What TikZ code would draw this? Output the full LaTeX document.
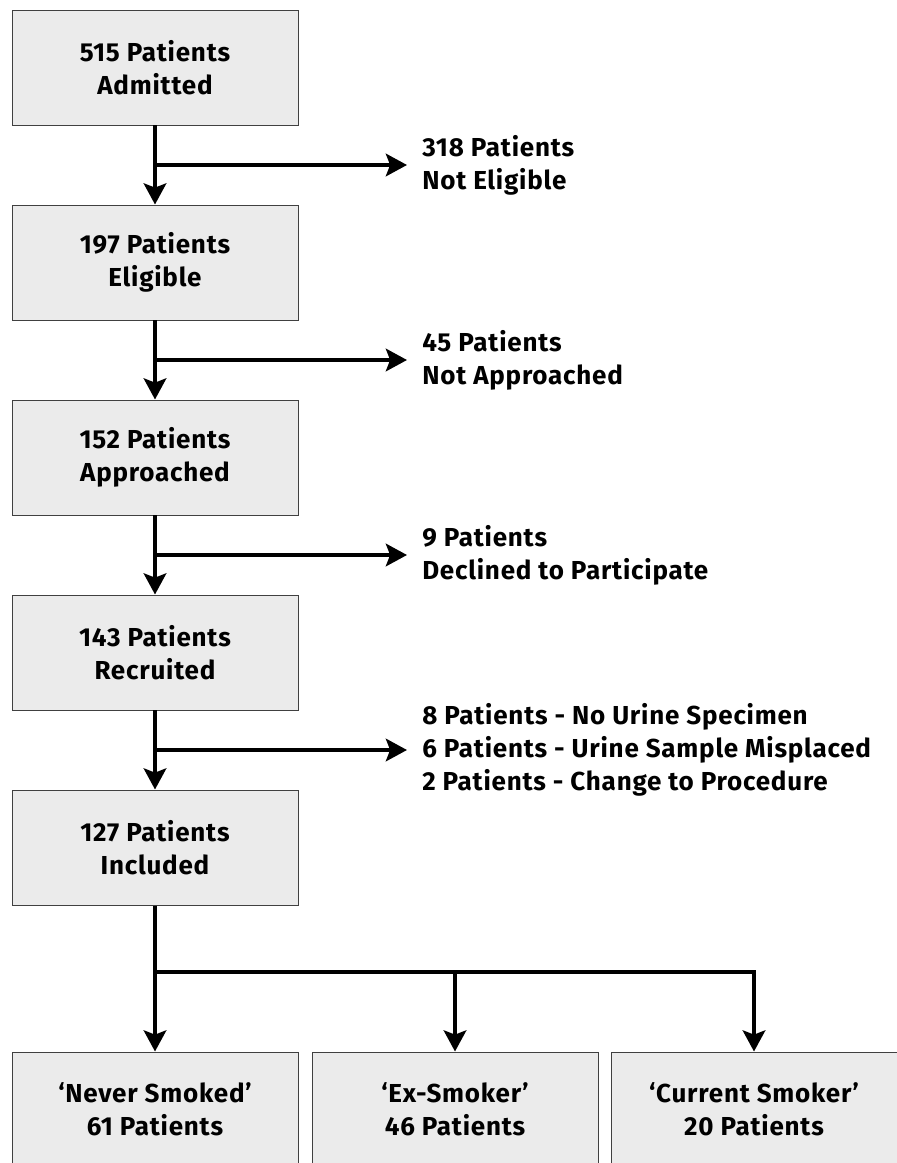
\documentclass[tikz,border=0pt]{standalone}
\usepackage{fontspec}
\setmainfont{Fira Sans}[LetterSpace=3]
\usepackage{xcolor}
\usetikzlibrary{arrows.meta,positioning}

\definecolor{boxgray}{HTML}{EBEBEB}
\definecolor{edgegray}{HTML}{404040}

\tikzset{
  stage/.style={draw=edgegray, line width=0.7pt, fill=boxgray, minimum width=7.15cm,
    minimum height=2.875cm, align=center, inner sep=0pt,
    font=\fontsize{18.5}{23.5}\selectfont\bfseries},
  excl/.style={anchor=west, align=left, inner ysep=0pt, inner xsep=0.375cm,
    font=\fontsize{18.5}{23.5}\selectfont\bfseries},
  flow/.style={line width=2.8pt, -{Stealth[length=15pt,width=16pt,inset=3pt]}},
  link/.style={line width=2.8pt},
}

\begin{document}
\begin{tikzpicture}
  \useasboundingbox (0,0) rectangle (22.4,-29.075);
  % main column
  \node[stage] (admit)   at (3.875,-1.6875)  {515 Patients\\Admitted};
  \node[stage] (elig)    at (3.875,-6.5625)  {197 Patients\\Eligible};
  \node[stage] (appr)    at (3.875,-11.4375) {152 Patients\\Approached};
  \node[stage] (recr)    at (3.875,-16.3125) {143 Patients\\Recruited};
  \node[stage] (incl)    at (3.875,-21.1875) {127 Patients\\Included};
  % exclusions
  \node[excl] (notelig)  at (10.175,-4.125)  {318 Patients\\Not Eligible};
  \node[excl] (notappr)  at (10.175,-9.0)    {45 Patients\\Not Approached};
  \node[excl] (declined) at (10.175,-13.875) {9 Patients\\Declined to Participate};
  \node[excl] (lost)     at (10.175,-18.75)  {8 Patients - No Urine Specimen\\6 Patients - Urine Sample Misplaced\\2 Patients - Change to Procedure};
  % smoking groups
  \node[stage] (never)   at (3.875,-27.7375) {`Never Smoked'\\61 Patients};
  \node[stage] (exsmk)   at (11.375,-27.7375) {`Ex-Smoker'\\46 Patients};
  \node[stage] (current) at (18.85,-27.7375) {`Current Smoker'\\20 Patients};

  \coordinate (j1) at (3.875,-4.125);
  \coordinate (j2) at (3.875,-9.0);
  \coordinate (j3) at (3.875,-13.875);
  \coordinate (j4) at (3.875,-18.75);
  \coordinate (split) at (3.875,-24.3);

  \draw[flow] (admit) -- (elig);
  \draw[flow] (elig) -- (appr);
  \draw[flow] (appr) -- (recr);
  \draw[flow] (recr) -- (incl);
  \draw[flow] (j1) -- (notelig.west);
  \draw[flow] (j2) -- (notappr.west);
  \draw[flow] (j3) -- (declined.west);
  \draw[flow] (j4) -- (lost.west);

  \draw[link] (incl) -- (split);
  \draw[flow] (split) -- (never);
  \draw[flow] (exsmk.north |- split) -- (exsmk);
  \draw[flow] (split) -- (current.north |- split) -- (current);
\end{tikzpicture}
\end{document}
